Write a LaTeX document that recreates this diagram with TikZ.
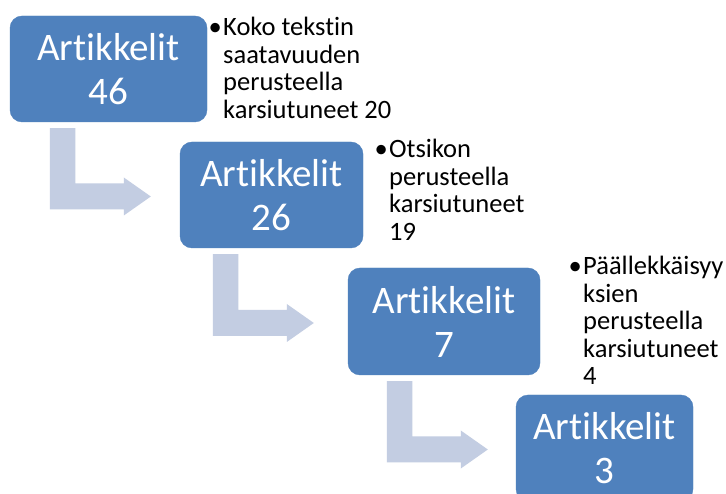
\documentclass[tikz,border=0pt]{standalone}
\usepackage{fontspec}
\setmainfont{Carlito}[Ligatures={NoCommon}, RawFeature={-calt}]
\usetikzlibrary{calc}
\definecolor{boxblue}{HTML}{4F81BD}
\definecolor{arrowgray}{HTML}{C3CDE2}
\tikzset{
  stepbox/.style={fill=boxblue, draw=boxblue, rounded corners=12pt, inner sep=0pt,
    text=white, align=center, font=\fontsize{39}{44}\selectfont},
  note/.style={anchor=base west, inner sep=0pt, font=\fontsize{26.5}{27.5}\selectfont},
  bentfill/.style={fill=arrowgray}
}
\newcommand\bentarrow[3]{%
  \fill[bentfill] let \p1=(#1.south west), \p2=(#2.west) in
   (\x1+#3pt, \y1-6pt) -- (\x1+#3pt+25.5pt, \y1-6pt)
   -- (\x1+#3pt+25.5pt, \y2-1.5pt+13pt) -- (\x1+#3pt+74pt, \y2-1.5pt+13pt)
   -- (\x1+#3pt+74pt, \y2-1.5pt+19pt) -- (\x1+#3pt+101pt, \y2-1.5pt)
   -- (\x1+#3pt+74pt, \y2-1.5pt-19pt) -- (\x1+#3pt+74pt, \y2-1.5pt-13pt)
   -- (\x1+#3pt, \y2-1.5pt-13pt) -- cycle;}
\newcommand\notelines[1]{\begin{tabular}[t]{@{}l@{}}#1\end{tabular}}
\begin{document}
\begin{tikzpicture}[x=1pt,y=1pt]
\useasboundingbox (0,0) rectangle (726,493);
\fill[white] (0,0) rectangle (726,493);
\node[stepbox, minimum width=197pt, minimum height=106pt] (b1) at (108.5,424) {Artikkelit\\46};
\node[stepbox, minimum width=183pt, minimum height=106pt] (b2) at (271.5,298) {Artikkelit\\26};
\node[stepbox, minimum width=192pt, minimum height=107pt] (b3) at (444,171.5) {Artikkelit\\7};
\node[stepbox, minimum width=177pt, minimum height=106pt] (b4) at (604.5,45) {Artikkelit\\3};
\bentarrow{b1}{b2}{40}
\bentarrow{b2}{b3}{33}
\bentarrow{b3}{b4}{39}
\node[note] (n1) at (223,457) {\notelines{\llap{•\kern1.5pt}Koko tekstin\\saatavuuden\\perusteella\\karsiutuneet 20}};
\node[note] (n2) at (389,335) {\notelines{\llap{•\kern1.5pt}Otsikon\\perusteella\\karsiutuneet\\19}};
\node[note] (n3) at (583,218) {\notelines{\llap{•\kern1.5pt}Päällekkäisyy\\ksien\\perusteella\\karsiutuneet\\4}};
\end{tikzpicture}
\end{document}
